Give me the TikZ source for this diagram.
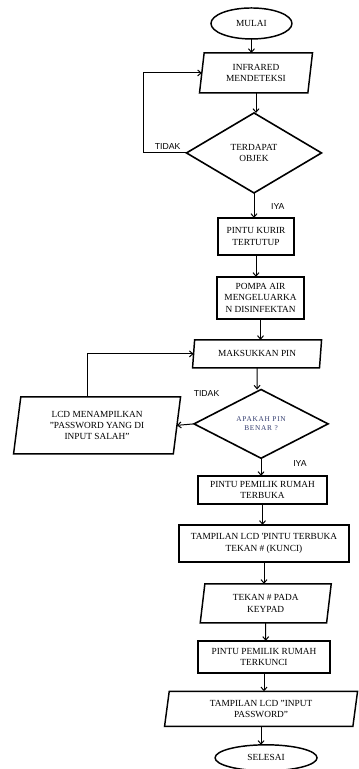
\documentclass[tikz,border=0pt]{standalone}
\usepackage{fontspec}
\setmainfont{Liberation Serif}
\newfontfamily\labelfont{Liberation Sans}
\usetikzlibrary{arrows.meta,shapes.geometric}
\definecolor{asktext}{RGB}{50,60,110}
\tikzset{%
	>={Straight Barb[width=4.5pt,length=2.6pt]},
	% Specifications for style of nodes:
	base/.style = {draw=black, line width=1.1pt, inner sep=1pt, outer sep=0pt,
		align=center, font=\fontsize{7}{8.4}\selectfont},
	startstop/.style = {base, ellipse},
	io/.style = {base, trapezium, trapezium left angle=77, trapezium right angle=103,
		trapezium stretches body},
	process/.style = {base, rectangle, line width=1.5pt},
	decision/.style = {base, diamond, line width=1.2pt},
	lbl/.style = {font=\labelfont\fontsize{6.5}{7}\selectfont, inner sep=2pt},
	conn/.style = {line width=0.75pt, ->}
}

\begin{document}
\begin{tikzpicture}
	\useasboundingbox (0,0) rectangle (268.5pt,-576.75pt);
	% Specification of nodes (position, etc.)
	\node (mulai)    [startstop, minimum width=60.75pt, minimum height=23.25pt] at (188.6pt,-17.6pt) {MULAI};
	\node (infrared) [io, minimum width=84.75pt, minimum height=30pt, node distance=37.1pt, below of=mulai, xshift=3.4pt] {INFRARED\\MENDETEKSI};
	\node (objek)    [decision, minimum width=101.25pt, minimum height=60pt, node distance=60pt, below of=infrared, xshift=-1.5pt] {TERDAPAT\\OBJEK};
	\node (kurir)    [process, minimum width=57pt, minimum height=27.75pt, node distance=62.6pt, below of=objek, xshift=1.5pt] {PINTU KURIR\\TERTUTUP};
	\node (pompa)    [process, minimum width=65.25pt, minimum height=31.5pt, node distance=46.1pt, below of=kurir, xshift=3.4pt] {POMPA AIR\\MENGELUARKA\\N DISINFEKTAN};
	\node (pin)      [io, minimum width=96.75pt, minimum height=21pt, node distance=42pt, below of=pompa, xshift=-2.6pt] {MAKSUKKAN PIN};
	\node (benar)    [decision, minimum width=100.5pt, minimum height=51pt, node distance=52.5pt, below of=pin, xshift=3pt,
		font=\fontsize{5.5}{6.8}\selectfont\addfontfeature{LetterSpace=10}, text=asktext] {APAKAH PIN\\BENAR ?};
	\node (salah)    [io, minimum width=125.25pt, minimum height=42.75pt, node distance=123pt, left of=benar, yshift=-1.1pt] {LCD MENAMPILKAN\\"PASSWORD YANG DI\\INPUT SALAH"};
	\node (terbuka)  [process, minimum width=96.75pt, minimum height=21pt, node distance=49.5pt, below of=benar, xshift=1.1pt] {PINTU PEMILIK RUMAH\\TERBUKA};
	\node (tampil)   [process, minimum width=127.5pt, minimum height=27.75pt, node distance=40.1pt, below of=terbuka, xshift=1.1pt] {TAMPILAN LCD \textquotesingle PINTU TERBUKA\\TEKAN \# (KUNCI)};
	\node (tekan)    [io, minimum width=98.25pt, minimum height=29.25pt, node distance=45pt, below of=tampil, xshift=1.3pt] {TEKAN \# PADA\\KEYPAD};
	\node (terkunci) [process, minimum width=99pt, minimum height=24pt, node distance=40.1pt, below of=tekan, xshift=-1.3pt] {PINTU PEMILIK RUMAH\\TERKUNCI};
	\node (inputpw)  [io, minimum width=144.75pt, minimum height=26.25pt, node distance=39pt, below of=terkunci, xshift=-2.2pt] {TAMPILAN LCD "INPUT\\PASSWORD"};
	\node (selesai)  [startstop, minimum width=76.5pt, minimum height=19.5pt, node distance=36.75pt, below of=inputpw, xshift=3.75pt] {SELESAI};

	\draw[conn] (mulai) -- (mulai |- infrared.north);
	\draw[conn] (infrared) -- (infrared |- objek.north);
	\draw[conn] (objek) -- node[lbl, midway, right, xshift=10.5pt, yshift=-1pt] {IYA} (objek |- kurir.north);
	\draw[conn] (objek.west) -- node[lbl, midway, above, xshift=2pt] {TIDAK} ++(-32.25pt,0) |- (infrared.west);
	\draw[conn] (kurir) -- (kurir |- pompa.north);
	\draw[conn] (pompa) -- (pompa |- pin.north);
	\draw[conn] (pin) -- (pin |- benar.north);
	\draw[conn] (benar.west) -- node[lbl, pos=0, anchor=west, xshift=-2.6pt, yshift=22.5pt] {TIDAK} (salah.east);
	\draw[conn] ([xshift=-7pt]salah.north) |- (pin.west);
	\draw[conn] (benar) -- node[lbl, midway, right, xshift=21.8pt, yshift=3pt] {IYA} (benar |- terbuka.north);
	\draw[conn] (terbuka) -- (terbuka |- tampil.north);
	\draw[conn] (tampil) -- (tampil |- tekan.north);
	\draw[conn] (tekan) -- (tekan |- terkunci.north);
	\draw[conn] (terkunci) -- (terkunci |- inputpw.north);
	\draw[conn] (inputpw) -- (inputpw |- selesai.north);
\end{tikzpicture}
\end{document}
